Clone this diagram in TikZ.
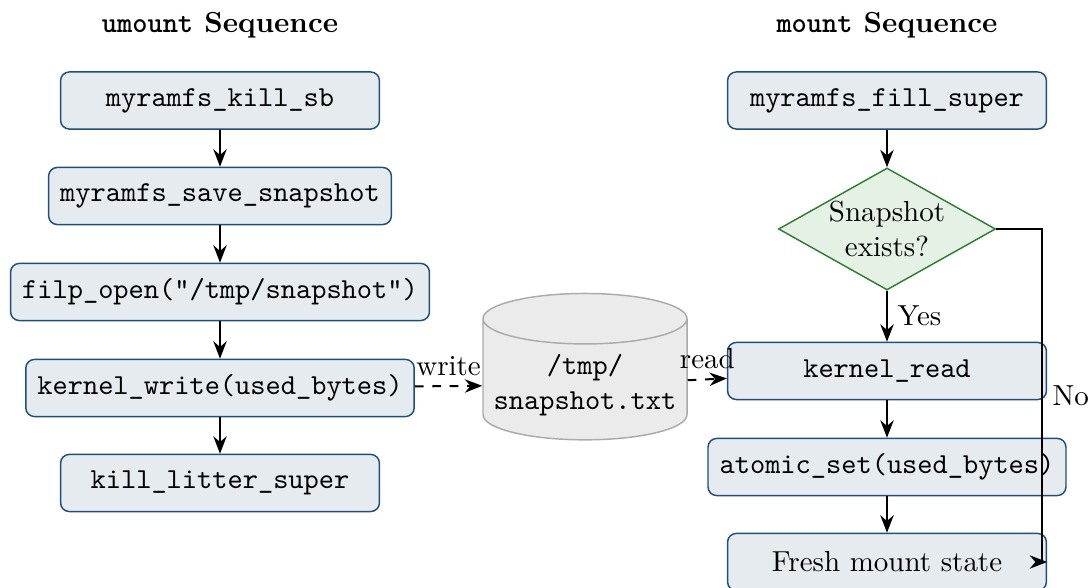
\documentclass[tikz,border=0pt]{standalone}
\usetikzlibrary{arrows.meta,shapes.geometric}
\definecolor{boxfill}{RGB}{230,235,240}
\definecolor{boxline}{RGB}{31,78,121}
\definecolor{decfill}{RGB}{228,241,228}
\definecolor{decline}{RGB}{46,125,50}
\definecolor{dbfill}{RGB}{235,235,235}
\definecolor{dbline}{RGB}{170,170,170}
\begin{document}
\begin{tikzpicture}[x=0.345pt,y=-0.345pt,
  heading/.style={font=\bfseries},
  funcbox/.style={draw=boxline, fill=boxfill, line width=0.5pt, rounded corners=3pt,
    minimum width=110pt, minimum height=19.7pt, inner xsep=4pt, font=\ttfamily},
  decision/.style={shape=diamond, draw=decline, fill=decfill, line width=0.5pt,
    aspect=1.78, inner sep=0pt, minimum width=74.9pt, minimum height=42.1pt, align=center},
  store/.style={shape=cylinder, shape border rotate=90, aspect=0.25, draw=dbline, fill=dbfill,
    line width=0.5pt, minimum width=70.4pt, minimum height=48.3pt, align=center, font=\ttfamily},
  flow/.style={-{Stealth[length=6pt,width=4.6pt]}, line width=0.7pt},
  dflow/.style={flow, dashed}]
\useasboundingbox (0,0) rectangle (1088,588);

% headings
\node[heading] (lt) at (220,25) {\texttt{umount} Sequence};
\node[heading] (rt) at (887,25) {\texttt{mount} Sequence};

% unmount path
\node[funcbox] (ksb) at (220,100.5) {myramfs\_kill\_sb};
\node[funcbox] (save) at (220,196) {myramfs\_save\_snapshot};
\node[funcbox] (filp) at (220,292) {filp\_open("/tmp/snapshot")};
\node[funcbox] (kwrite) at (220,388) {kernel\_write(used\_bytes)};
\node[funcbox] (kls) at (220,483) {kill\_litter\_super};

% snapshot file
\node[store] (snap) at (585,385) {/tmp/\\snapshot.txt};

% mount path
\node[funcbox] (fill) at (887,100.5) {myramfs\_fill\_super};
\node[decision] (exists) at (887,229) {Snapshot\\exists?};
\node[funcbox] (kread) at (887,371) {kernel\_read};
\node[funcbox] (aset) at (887,467) {atomic\_set(used\_bytes)};
\node[funcbox, font=\rmfamily] (fresh) at (887,562) {Fresh mount state};

% connectors
\draw[flow] (ksb) -- (save);
\draw[flow] (save) -- (filp);
\draw[flow] (filp) -- (kwrite);
\draw[flow] (kwrite) -- (kls);
\draw[dflow] (kwrite) -- node[above] {write} (snap);
\draw[dflow] (snap) -- node[above] {read} (kread);
\draw[flow] (fill) -- (exists);
\draw[flow] (exists) -- node[right] {Yes} (kread);
\draw[flow] (kread) -- (aset);
\draw[flow] (aset) -- (fresh);
\coordinate (nobend) at (1042,229);
\draw[flow] (exists.east) -- (nobend) |- node[right, pos=0.25] {No} (fresh.east);
\end{tikzpicture}
\end{document}
